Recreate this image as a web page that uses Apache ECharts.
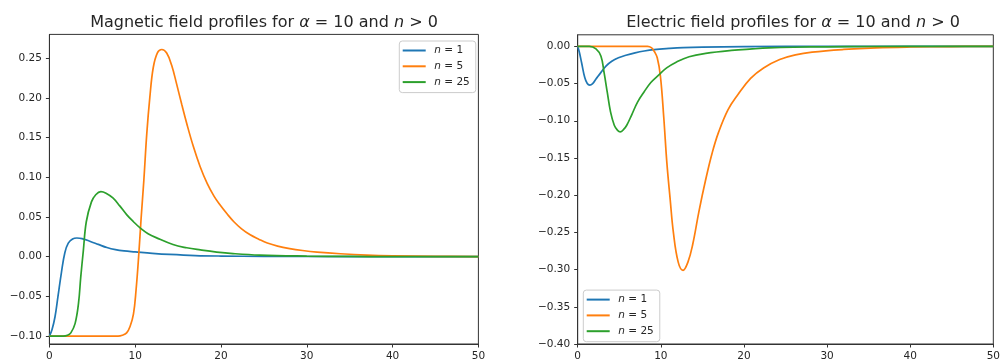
<!DOCTYPE html>
<html>
<head>
<meta charset="utf-8">
<script src="https://cdn.jsdelivr.net/npm/echarts@6/dist/echarts.min.js"></script>
<style>
  html, body { margin: 0; padding: 0; background: #fff; }
  #chart { width: 1003px; height: 362px; }
</style>
</head>
<body>
<div id="chart"></div>
<script>
// Field profiles for alpha = 10, sampled as [r, value] pairs
const seriesNames = ['n = 1', 'n = 5', 'n = 25'];
const seriesColors = ['#1f77b4', '#ff7f0e', '#2ca02c'];

const magneticN1 = [[0,-0.1],[0.3,-0.092],[0.65,-0.076],[1.0,-0.05],[1.4,-0.02],[1.8,0.005],[2.2,0.017],[2.7,0.0222],[3.2,0.0235],[3.8,0.0228],[4.7,0.0195],[5.7,0.0155],[6.7,0.0115],[7.7,0.0088],[8.7,0.0072],[10,0.006],[12,0.0042],[14,0.0028],[17,0.0014],[20,0.0008],[25,0.0004],[30,0.0002],[40,0.0],[50,0.0]];
const magneticN5 = [[0,-0.1],[8,-0.1],[8.5,-0.099],[9.0,-0.096],[9.4,-0.088],[9.8,-0.072],[10.1,-0.042],[10.4,0.0],[10.7,0.05],[11.0,0.095],[11.35,0.155],[11.7,0.2],[12.1,0.238],[12.6,0.257],[13.1,0.261],[13.67,0.2565],[14.25,0.241],[14.84,0.217],[15.42,0.192],[16.0,0.168],[16.77,0.139],[17.55,0.114],[18.4,0.092],[19.2,0.076],[19.9,0.065],[20.7,0.054],[21.5,0.044],[22.4,0.035],[23.4,0.0275],[24.4,0.022],[25.4,0.0172],[26.6,0.0133],[28,0.0102],[29.5,0.0078],[31.2,0.0058],[33.9,0.0037],[37,0.002],[40,0.0011],[45,0.0004],[50,0.0001]];
const magneticN25 = [[0,-0.1],[1.6,-0.1],[2.1,-0.099],[2.5,-0.096],[3.0,-0.084],[3.4,-0.058],[3.65,-0.026],[3.95,0.007],[4.3,0.044],[4.9,0.069],[5.4,0.078],[6.0,0.082],[6.6,0.08],[7.4,0.074],[8.2,0.064],[9.0,0.053],[9.8,0.044],[10.6,0.036],[11.5,0.029],[12.5,0.0237],[14.4,0.0153],[16,0.0112],[17.6,0.0085],[19.5,0.0058],[21.4,0.0039],[24.5,0.002],[30,0.0008],[35,0.0003],[40,0.0001],[50,0.0]];

const electricN1 = [[0,0],[0.2,-0.008],[0.47,-0.022],[0.85,-0.042],[1.15,-0.05],[1.45,-0.052],[1.8,-0.05],[2.2,-0.044],[2.8,-0.035],[3.4,-0.0265],[4.1,-0.02],[4.9,-0.0154],[5.8,-0.012],[6.9,-0.0088],[8,-0.0063],[9.2,-0.0044],[11,-0.0028],[12.7,-0.0017],[15,-0.001],[20,-0.0004],[30,-0.0001],[50,0]];
const electricN5 = [[0,0],[8.4,0],[8.9,-0.002],[9.2,-0.0066],[9.57,-0.0154],[9.95,-0.04],[10.35,-0.095],[10.73,-0.157],[11.12,-0.205],[11.51,-0.25],[12.09,-0.29],[12.67,-0.301],[13.26,-0.29],[13.84,-0.266],[14.6,-0.221],[15.38,-0.18],[16.16,-0.144],[16.93,-0.116],[18.09,-0.085],[19.26,-0.065],[20.8,-0.043],[22.36,-0.029],[24.3,-0.0177],[26.2,-0.0115],[28.2,-0.0078],[32,-0.0042],[35.9,-0.002],[40,-0.0009],[45,-0.0003],[50,0]];
const electricN25 = [[0,0],[1.4,0],[2.2,-0.0035],[2.8,-0.0133],[3.17,-0.035],[3.56,-0.062],[3.95,-0.088],[4.4,-0.106],[4.8,-0.113],[5.12,-0.115],[5.5,-0.112],[5.9,-0.106],[6.5,-0.092],[7.2,-0.075],[8,-0.061],[8.8,-0.0486],[9.7,-0.039],[10.7,-0.029],[11.9,-0.021],[13.4,-0.014],[15.4,-0.0095],[18.5,-0.0055],[21,-0.0035],[23,-0.0022],[26,-0.0012],[30,-0.0006],[35,-0.0002],[50,0]];

// Tick labels
const xTicks = [0, 10, 20, 30, 40, 50];
const magneticYTicks = [-0.10, -0.05, 0.00, 0.05, 0.10, 0.15, 0.20, 0.25];
const electricYTicks = [-0.40, -0.35, -0.30, -0.25, -0.20, -0.15, -0.10, -0.05, 0.00];

const FONT = 'DejaVu Sans';
const TEXT = '#262626';
const SPINE = '#333333';

function fmtY(v) {
  const s = Math.abs(v).toFixed(2);
  return (v < -1e-9 ? '\u2212' : '') + s;
}

function xAxis(gridIndex) {
  return {
    type: 'value', gridIndex, min: 0, max: 50,
    splitLine: { show: false },
    axisLine: { onZero: false, lineStyle: { color: SPINE, width: 1 } },
    axisTick: { customValues: xTicks, length: 3.5, lineStyle: { color: SPINE } },
    axisLabel: { customValues: xTicks, margin: 7, fontFamily: FONT, fontSize: 10.5, color: TEXT }
  };
}
function yAxis(gridIndex, min, max, ticks) {
  return {
    type: 'value', gridIndex, min, max,
    splitLine: { show: false },
    axisLine: { show: true, onZero: false, lineStyle: { color: SPINE, width: 1 } },
    axisTick: { show: true, customValues: ticks, length: 3.5, lineStyle: { color: SPINE } },
    axisLabel: { customValues: ticks, margin: 7.5, fontFamily: FONT, fontSize: 10.5, color: TEXT, formatter: fmtY }
  };
}
function line(name, data, idx) {
  const color = seriesColors[seriesNames.indexOf(name)];
  return {
    type: 'line', name, data,
    xAxisIndex: idx, yAxisIndex: idx,
    symbol: 'none', smooth: 0.4,
    lineStyle: { width: 1.7, color },
    itemStyle: { color },
    animation: false
  };
}
function legend(pos) {
  return Object.assign({
    data: seriesNames, orient: 'vertical',
    icon: 'rect', itemWidth: 23, itemHeight: 2, itemGap: 3.8,
    padding: [3.5, 6, 4.5, 3.4],
    backgroundColor: 'rgba(255,255,255,0.8)',
    borderColor: '#cccccc', borderWidth: 1, borderRadius: 3,
    formatter: (name) => name.replace(/^n/, '{i|n}'),
    textStyle: {
      fontFamily: FONT, fontSize: 10.5, lineHeight: 12, color: TEXT, padding: [0, 0, 0, 3.6],
      rich: { i: { fontFamily: FONT, fontSize: 10.5, lineHeight: 12, fontStyle: 'italic', color: TEXT } }
    }
  }, pos);
}
function titleText(x, text) {
  return {
    type: 'text', x, y: 23,
    style: {
      text, align: 'center', verticalAlign: 'middle',
      fontFamily: FONT, fontSize: 16, fill: TEXT,
      rich: { i: { fontFamily: FONT, fontSize: 16, fontStyle: 'italic', fill: TEXT, color: TEXT } }
    }
  };
}

const chart = echarts.init(document.getElementById('chart'), null, { renderer: 'canvas' });
chart.setOption({
  animation: false,
  backgroundColor: '#ffffff',
  grid: [
    { left: 49.4, top: 34.4, width: 429, height: 313, show: true, borderColor: SPINE, borderWidth: 1, backgroundColor: 'transparent' },
    { left: 577.7, top: 34.8, width: 430, height: 313, show: true, borderColor: SPINE, borderWidth: 1, backgroundColor: 'transparent' }
  ],
  xAxis: [xAxis(0), xAxis(1)],
  yAxis: [yAxis(0, -0.110, 0.280, magneticYTicks), yAxis(1, -0.40, 0.0155, electricYTicks)],
  legend: [legend({ left: 399.3, top: 41 }), legend({ left: 583.3, bottom: 20.3 })],
  graphic: [
    titleText(264, 'Magnetic field profiles for {i|\u03b1} = 10 and {i|n} > 0'),
    titleText(793, 'Electric field profiles for {i|\u03b1} = 10 and {i|n} > 0')
  ],
  series: [
    line('n = 1', magneticN1, 0),
    line('n = 5', magneticN5, 0),
    line('n = 25', magneticN25, 0),
    line('n = 1', electricN1, 1),
    line('n = 5', electricN5, 1),
    line('n = 25', electricN25, 1)
  ]
});
</script>
</body>
</html>
